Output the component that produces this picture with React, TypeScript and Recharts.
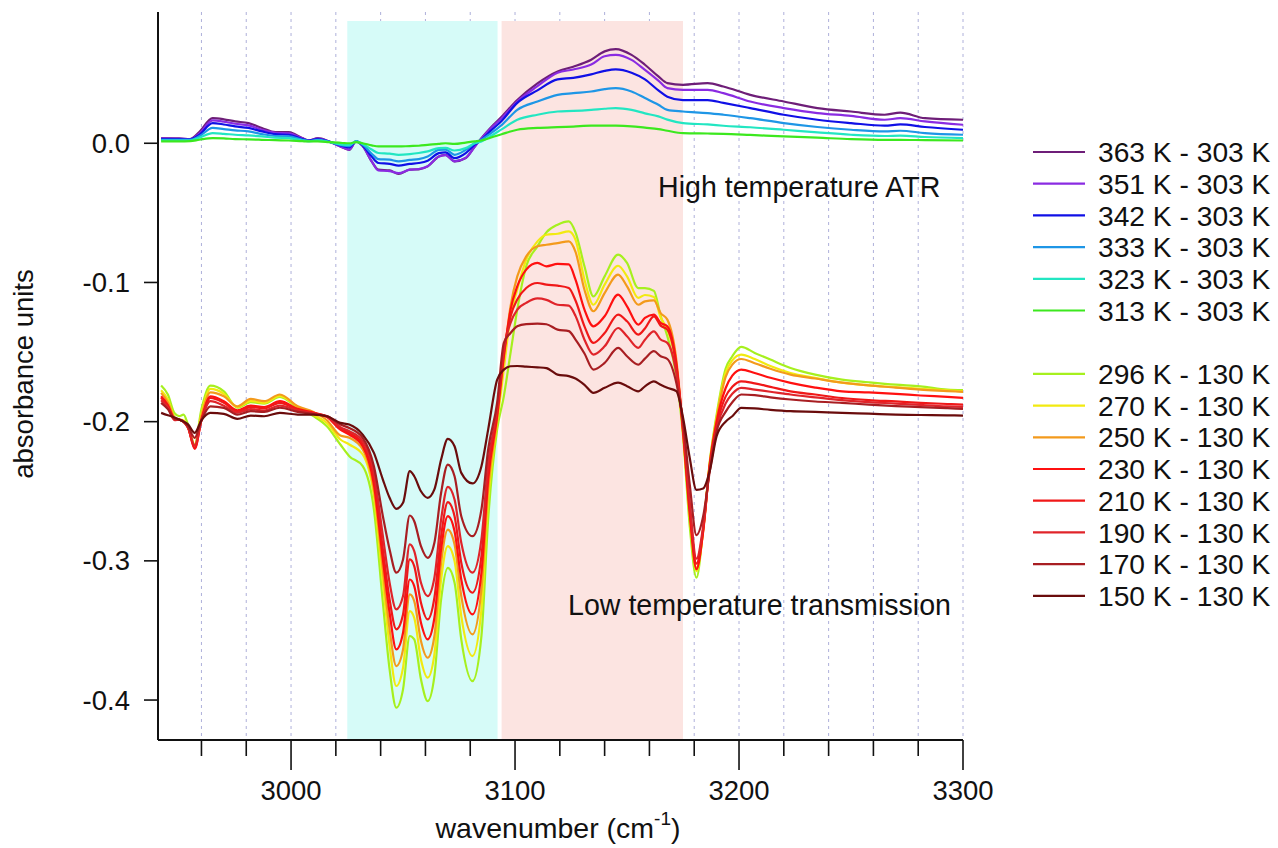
// Temperature difference IR spectra - high temperature ATR vs low temperature transmission
import React from 'react';
import { LineChart, Line, XAxis, YAxis, CartesianGrid, ReferenceArea, Legend } from 'recharts';

const FONT = '"Liberation Sans", Arial, Helvetica, sans-serif';

// high temperature ATR, wavenumbers (cm-1)
const highX = [2942, 2950, 2955, 2959, 2965, 2970, 2975, 2981, 2987, 2993, 2999, 3005, 3008, 3012, 3017, 3023, 3026, 3029, 3032, 3036, 3039, 3044, 3048, 3053, 3057, 3061, 3066, 3069, 3073, 3078, 3082, 3085, 3089, 3094, 3101, 3110, 3119, 3126, 3134, 3140, 3145, 3152, 3158, 3164, 3168, 3175, 3186, 3193, 3205, 3220, 3235, 3250, 3265, 3272, 3283, 3300];

const high363 = [0.0037, 0.0035, 0.003, 0.008, 0.018, 0.0172, 0.0157, 0.0145, 0.011, 0.008, 0.008, 0.0037, 0.002, 0.0037, 0.0013, -0.003, -0.0047, 0.0013, -0.002, -0.013, -0.019, -0.0195, -0.022, -0.019, -0.0187, -0.0166, -0.0095, -0.0083, -0.013, -0.0106, -0.0023, 0.0037, 0.011, 0.019, 0.031, 0.043, 0.0516, 0.055, 0.06, 0.066, 0.0676, 0.0635, 0.0564, 0.048, 0.0432, 0.042, 0.0432, 0.0408, 0.0348, 0.03, 0.0253, 0.0228, 0.0205, 0.022, 0.018, 0.0169];
const high351 = [0.0035, 0.0033, 0.003, 0.007, 0.0164, 0.0155, 0.014, 0.0128, 0.0097, 0.0075, 0.0071, 0.0035, 0.002, 0.0033, 0.0012, -0.003, -0.0045, 0.0013, -0.002, -0.013, -0.0195, -0.02, -0.0215, -0.019, -0.0185, -0.0165, -0.0095, -0.0085, -0.013, -0.0105, -0.0025, 0.0035, 0.0105, 0.018, 0.03, 0.041, 0.0507, 0.053, 0.0565, 0.0625, 0.0635, 0.0599, 0.0527, 0.045, 0.0396, 0.0384, 0.0384, 0.036, 0.03, 0.0253, 0.0217, 0.0197, 0.0169, 0.018, 0.0157, 0.0133];
const high342 = [0.003, 0.003, 0.0028, 0.006, 0.0145, 0.0135, 0.0121, 0.011, 0.0085, 0.0065, 0.0061, 0.003, 0.002, 0.003, 0.0012, -0.002, -0.003, 0.0013, -0.0015, -0.0095, -0.0142, -0.0148, -0.016, -0.0148, -0.0142, -0.0125, -0.0071, -0.0065, -0.0107, -0.0071, -0.001, 0.0025, 0.0087, 0.016, 0.029, 0.038, 0.0459, 0.047, 0.0495, 0.052, 0.0531, 0.0507, 0.0459, 0.038, 0.0335, 0.031, 0.031, 0.029, 0.0253, 0.0205, 0.0169, 0.0145, 0.0126, 0.0135, 0.0117, 0.0097];
const high333 = [0.0025, 0.0025, 0.0025, 0.005, 0.011, 0.0102, 0.0093, 0.0085, 0.0066, 0.0052, 0.0049, 0.0025, 0.0015, 0.0025, 0.001, -0.0015, -0.002, 0.0013, -0.001, -0.0075, -0.0114, -0.0118, -0.013, -0.012, -0.0114, -0.0095, -0.0047, -0.0045, -0.0083, -0.0047, 0, 0.0025, 0.007, 0.013, 0.024, 0.03, 0.0348, 0.036, 0.0372, 0.0389, 0.0396, 0.0372, 0.0325, 0.0277, 0.024, 0.0228, 0.0217, 0.0205, 0.018, 0.0145, 0.0117, 0.0097, 0.0085, 0.009, 0.0073, 0.0061];
const high323 = [0.002, 0.002, 0.002, 0.004, 0.0073, 0.0068, 0.0061, 0.0056, 0.0049, 0.004, 0.0037, 0.002, 0.0015, 0.002, 0.001, -0.001, -0.0012, 0.0013, -0.0005, -0.0045, -0.007, -0.0075, -0.0083, -0.0078, -0.007, -0.0058, -0.0035, -0.0033, -0.0052, -0.0035, 0, 0.0013, 0.005, 0.01, 0.0169, 0.0205, 0.0228, 0.0232, 0.024, 0.0248, 0.0253, 0.024, 0.0215, 0.0193, 0.017, 0.0145, 0.0135, 0.0126, 0.0115, 0.0097, 0.0078, 0.0061, 0.0052, 0.0055, 0.0045, 0.0037];
const high313 = [0.0013, 0.0013, 0.0015, 0.0025, 0.0037, 0.0035, 0.003, 0.0028, 0.0025, 0.0022, 0.002, 0.0015, 0.0013, 0.0013, 0.0008, 0.0002, 0, 0.0008, 0, -0.0015, -0.0023, -0.0023, -0.0023, -0.002, -0.0018, -0.0012, -0.0004, 0, -0.0005, 0.0005, 0.0013, 0.002, 0.004, 0.0065, 0.0097, 0.011, 0.0116, 0.012, 0.0126, 0.0126, 0.0126, 0.0122, 0.0112, 0.0102, 0.009, 0.0073, 0.007, 0.0068, 0.006, 0.0049, 0.004, 0.003, 0.0025, 0.0025, 0.0022, 0.002];

// low temperature transmission, wavenumbers (cm-1)
const lowX = [2942, 2945, 2948, 2950, 2952, 2954, 2957, 2960, 2964, 2970, 2976, 2982, 2988, 2995, 3003, 3010, 3016, 3022, 3026, 3032, 3037, 3041, 3044, 3047, 3050, 3053, 3055, 3058, 3061, 3064, 3067, 3070, 3073, 3076, 3081, 3085, 3088, 3092, 3095, 3098, 3101, 3105, 3110, 3114, 3119, 3124, 3127, 3131, 3135, 3140, 3146, 3150, 3155, 3158, 3162, 3165, 3168, 3172, 3175, 3178, 3181, 3184, 3187, 3190, 3194, 3197, 3201, 3207, 3214, 3223, 3234, 3246, 3258, 3270, 3281, 3293, 3300];

const low296 = [-0.174, -0.1805, -0.194, -0.196, -0.195, -0.202, -0.2164, -0.191, -0.1741, -0.1782,
  -0.19, -0.186, -0.187, -0.1822, -0.19, -0.196, -0.2033, -0.2164, -0.2248, -0.232,
  -0.2631, -0.3301, -0.378, -0.4055, -0.3923, -0.354, -0.3564, -0.3851, -0.4007, -0.3828,
  -0.3277, -0.305, -0.3157, -0.3564, -0.3864, -0.354, -0.2703, -0.2057, -0.1818, -0.1506,
  -0.1195, -0.0884, -0.0741, -0.064, -0.0585, -0.0561, -0.064, -0.0884, -0.11, -0.0956,
  -0.08, -0.086, -0.104, -0.104, -0.106, -0.124, -0.1387, -0.1674, -0.21, -0.275,
  -0.3121, -0.277, -0.228, -0.195, -0.162, -0.153, -0.1463, -0.1506, -0.1554, -0.1614,
  -0.1662, -0.1698, -0.1717, -0.1734, -0.1746, -0.177, -0.1774];
const low270 = [-0.1774, -0.184, -0.197, -0.1985, -0.199, -0.204, -0.217, -0.194, -0.1765, -0.18,
  -0.1895, -0.185, -0.1865, -0.1815, -0.1895, -0.195, -0.201, -0.2128, -0.2164, -0.2236,
  -0.2535, -0.3157, -0.3612, -0.3899, -0.3767, -0.3361, -0.3409, -0.3708, -0.3839, -0.3672,
  -0.3134, -0.2894, -0.3002, -0.3397, -0.3684, -0.3349, -0.2559, -0.2009, -0.162, -0.1243,
  -0.105, -0.0836, -0.0705, -0.0657, -0.065, -0.0633, -0.0693, -0.098, -0.116, -0.1016,
  -0.088, -0.0956, -0.1111, -0.109, -0.1104, -0.125, -0.1339, -0.16, -0.208, -0.268,
  -0.3074, -0.278, -0.229, -0.197, -0.165, -0.156, -0.1518, -0.155, -0.16, -0.165,
  -0.1685, -0.172, -0.174, -0.1752, -0.1765, -0.1775, -0.1782];
const low250 = [-0.1793, -0.186, -0.197, -0.1985, -0.2, -0.204, -0.218, -0.196, -0.1789, -0.1818,
  -0.189, -0.1837, -0.1853, -0.1805, -0.189, -0.193, -0.199, -0.21, -0.2116, -0.22,
  -0.2487, -0.3062, -0.3492, -0.3756, -0.3636, -0.3241, -0.3289, -0.3576, -0.3696, -0.354,
  -0.3014, -0.2775, -0.2882, -0.3253, -0.3528, -0.3205, -0.2487, -0.1985, -0.155, -0.117,
  -0.0956, -0.0813, -0.074, -0.0729, -0.0717, -0.0705, -0.078, -0.1052, -0.1207, -0.1076,
  -0.0944, -0.1028, -0.116, -0.1136, -0.1129, -0.122, -0.1267, -0.1554, -0.207, -0.266,
  -0.305, -0.278, -0.229, -0.198, -0.168, -0.159, -0.155, -0.158, -0.162, -0.1662,
  -0.169, -0.172, -0.174, -0.1755, -0.177, -0.178, -0.1786];
const low230 = [-0.1817, -0.188, -0.198, -0.1985, -0.2, -0.204, -0.2195, -0.1985, -0.1818, -0.1853,
  -0.1918, -0.1885, -0.1895, -0.1853, -0.1908, -0.1935, -0.1965, -0.2057, -0.2093, -0.2177,
  -0.2452, -0.299, -0.3373, -0.3636, -0.3516, -0.3134, -0.3182, -0.3444, -0.3564, -0.3409,
  -0.2918, -0.2679, -0.2787, -0.3134, -0.3385, -0.3085, -0.2416, -0.1961, -0.153, -0.1195,
  -0.1028, -0.0908, -0.086, -0.0884, -0.0867, -0.087, -0.098, -0.1195, -0.1315, -0.1243,
  -0.1088, -0.1171, -0.1303, -0.1255, -0.1231, -0.129, -0.1315, -0.1578, -0.207, -0.266,
  -0.306, -0.279, -0.23, -0.2, -0.176, -0.167, -0.1626, -0.165, -0.1685, -0.1721,
  -0.1755, -0.1782, -0.179, -0.18, -0.1812, -0.1822, -0.1829];
const low210 = [-0.1829, -0.189, -0.198, -0.1985, -0.2, -0.204, -0.219, -0.199, -0.183, -0.1865,
  -0.1925, -0.1895, -0.1905, -0.1865, -0.1915, -0.194, -0.1965, -0.205, -0.2081, -0.2164,
  -0.2416, -0.2918, -0.3277, -0.3492, -0.3385, -0.299, -0.3038, -0.3301, -0.3421, -0.3265,
  -0.2823, -0.2578, -0.2679, -0.3014, -0.3229, -0.2966, -0.2368, -0.1937, -0.1505, -0.1243,
  -0.1123, -0.104, -0.1004, -0.1015, -0.1023, -0.104, -0.113, -0.1315, -0.1434, -0.1363,
  -0.1231, -0.1279, -0.1375, -0.133, -0.1243, -0.131, -0.1339, -0.1602, -0.205, -0.262,
  -0.302, -0.277, -0.231, -0.203, -0.182, -0.175, -0.171, -0.1725, -0.175, -0.1782,
  -0.1805, -0.183, -0.1845, -0.1855, -0.1865, -0.1873, -0.1877];
const low190 = [-0.1846, -0.19, -0.199, -0.1985, -0.2, -0.2045, -0.217, -0.199, -0.1853, -0.1885,
  -0.1935, -0.191, -0.192, -0.1885, -0.192, -0.194, -0.1962, -0.204, -0.2069, -0.2141,
  -0.2368, -0.2823, -0.3157, -0.3349, -0.3253, -0.2882, -0.293, -0.3157, -0.3253, -0.3121,
  -0.2703, -0.2468, -0.2559, -0.287, -0.3085, -0.2846, -0.2296, -0.1913, -0.148, -0.129,
  -0.1195, -0.1147, -0.1115, -0.1125, -0.116, -0.1167, -0.124, -0.1411, -0.1518, -0.1459,
  -0.1327, -0.1387, -0.147, -0.1411, -0.1351, -0.141, -0.1434, -0.165, -0.203, -0.258,
  -0.2985, -0.275, -0.232, -0.205, -0.187, -0.18, -0.1757, -0.177, -0.1785, -0.1805,
  -0.1825, -0.1846, -0.186, -0.187, -0.188, -0.189, -0.1894];
const low170 = [-0.1865, -0.191, -0.198, -0.1985, -0.2, -0.2035, -0.2116, -0.199, -0.189, -0.1901,
  -0.195, -0.1925, -0.193, -0.19, -0.193, -0.1945, -0.196, -0.2021, -0.2045, -0.2116,
  -0.232, -0.2679, -0.2918, -0.3085, -0.299, -0.2674, -0.2715, -0.2894, -0.2978, -0.287,
  -0.2511, -0.2308, -0.2392, -0.2679, -0.2823, -0.2631, -0.22, -0.1865, -0.1434, -0.1363,
  -0.1315, -0.13, -0.1296, -0.13, -0.1339, -0.135, -0.141, -0.151, -0.1626, -0.1578,
  -0.147, -0.153, -0.159, -0.1547, -0.1494, -0.153, -0.155, -0.1721, -0.2, -0.245,
  -0.2815, -0.268, -0.235, -0.207, -0.193, -0.186, -0.1805, -0.181, -0.1825, -0.1841,
  -0.1855, -0.1865, -0.1878, -0.1888, -0.1895, -0.1903, -0.1908];
const low150 = [-0.1937, -0.1954, -0.197, -0.1985, -0.2, -0.202, -0.208, -0.199, -0.1937, -0.1944,
  -0.198, -0.1956, -0.1961, -0.1937, -0.1949, -0.195, -0.1961, -0.2009, -0.2021, -0.2093,
  -0.2224, -0.2416, -0.2547, -0.2626, -0.2583, -0.2356, -0.2392, -0.25, -0.2547, -0.2487,
  -0.2272, -0.2124, -0.2177, -0.2368, -0.2444, -0.232, -0.2057, -0.17, -0.1626, -0.1602,
  -0.16, -0.1605, -0.161, -0.1615, -0.1662, -0.1673, -0.169, -0.1735, -0.1793, -0.1757,
  -0.172, -0.1745, -0.1782, -0.1746, -0.171, -0.1735, -0.1757, -0.178, -0.197, -0.226,
  -0.249, -0.248, -0.235, -0.2105, -0.2, -0.1961, -0.1901, -0.1905, -0.1915, -0.1925,
  -0.193, -0.1937, -0.1943, -0.1949, -0.1952, -0.1955, -0.1956];

// axis ticks and shaded bands
const xTicks = [2960, 2980, 3000, 3020, 3040, 3060, 3080, 3100, 3120, 3140, 3160, 3180, 3200, 3220, 3240, 3260, 3280, 3300];
const yTicks = [0, -0.1, -0.2, -0.3, -0.4];
const cyanBand = [3025.1, 3092.2];
const pinkBand = [3094.0, 3175.0];

const highSeries = [
  { name: '363 K - 303 K', color: '#6e1e78', values: high363 },
  { name: '351 K - 303 K', color: '#8a2be2', values: high351 },
  { name: '342 K - 303 K', color: '#1010e6', values: high342 },
  { name: '333 K - 303 K', color: '#1e96e6', values: high333 },
  { name: '323 K - 303 K', color: '#22e6c2', values: high323 },
  { name: '313 K - 303 K', color: '#3ce81e', values: high313 },
];

const lowSeries = [
  { name: '296 K - 130 K', color: '#a6f01e', values: low296 },
  { name: '270 K - 130 K', color: '#f2ea10', values: low270 },
  { name: '250 K - 130 K', color: '#f39a1c', values: low250 },
  { name: '230 K - 130 K', color: '#ff1010', values: low230 },
  { name: '210 K - 130 K', color: '#f01818', values: low210 },
  { name: '190 K - 130 K', color: '#e0242a', values: low190 },
  { name: '170 K - 130 K', color: '#a81e22', values: low170 },
  { name: '150 K - 130 K', color: '#6a0c0c', values: low150 },
];

const XTick = (props: any) => {
  const { x, y, payload } = props;
  const major = payload.value % 100 === 0;
  return (
    <g>
      <line x1={x} x2={x} y1={y} y2={y + (major ? 30 : 16)} stroke="#111" strokeWidth={1.6} />
      {major && (
        <text x={x} y={y + 60} textAnchor="middle" fontSize={27.5} fontFamily={FONT} fill="#111">
          {payload.value}
        </text>
      )}
    </g>
  );
};

const YTick = (props: any) => {
  const { x, y, payload } = props;
  return (
    <g>
      <line x1={x - 14} x2={x} y1={y} y2={y} stroke="#111" strokeWidth={1.6} />
      <text x={x - 28} y={y} dy="0.35em" textAnchor="end" fontSize={27.5} fontFamily={FONT} fill="#111">
        {payload.value.toFixed(1)}
      </text>
    </g>
  );
};

const SpectraLegend = () => {
  const rows = [...highSeries, null, ...lowSeries];
  return (
    <svg width={250} height={490}>
      {rows.map((s, i) =>
        s ? (
          <g key={s.name}>
            <line x1={5} x2={57} y1={22 + i * 31.7} y2={22 + i * 31.7} stroke={s.color} strokeWidth={2.2} />
            <text x={70} y={22 + i * 31.7} dy="0.36em" fontSize={28.2} fontFamily={FONT} fill="#111">
              {s.name}
            </text>
          </g>
        ) : null
      )}
    </svg>
  );
};

export default function App() {
  return (
    <div style={{ position: 'absolute', left: 0, top: 0, width: 1278, height: 848, background: '#fff' }}>
      <LineChart width={1278} height={848} margin={{ top: 12, right: 315, bottom: 8, left: 98 }}>
        <ReferenceArea x1={cyanBand[0]} x2={cyanBand[1]} y1={-0.4287} y2={0.0878} fill="#d6fbf8" fillOpacity={1} stroke="none" />
        <ReferenceArea x1={pinkBand[0]} x2={pinkBand[1]} y1={-0.4287} y2={0.0878} fill="#fce4e1" fillOpacity={1} stroke="none" />
        <CartesianGrid horizontal={false} stroke="#aeb0da" strokeDasharray="3 4" />
        <XAxis
          type="number"
          dataKey="x"
          domain={[2940.6, 3300]}
          allowDataOverflow
          ticks={xTicks}
          interval={0}
          height={100}
          tickSize={0}
          tickMargin={0}
          tick={<XTick />}
          axisLine={{ stroke: '#111', strokeWidth: 2 }}
        />
        <YAxis
          type="number"
          domain={[-0.4287, 0.0943]}
          allowDataOverflow
          ticks={yTicks}
          interval={0}
          width={60}
          tickSize={0}
          tickMargin={0}
          tick={<YTick />}
          axisLine={{ stroke: '#111', strokeWidth: 2 }}
        />
        {highSeries.map((s) => (
          <Line
            key={s.name}
            name={s.name}
            data={highX.map((x, i) => ({ x, y: s.values[i] }))}
            dataKey="y"
            type="monotone"
            stroke={s.color}
            strokeWidth={2.2}
            dot={false}
            isAnimationActive={false}
          />
        ))}
        {lowSeries.map((s) => (
          <Line
            key={s.name}
            name={s.name}
            data={lowX.map((x, i) => ({ x, y: s.values[i] }))}
            dataKey="y"
            type="monotone"
            stroke={s.color}
            strokeWidth={2.2}
            dot={false}
            isAnimationActive={false}
          />
        ))}
        <Legend
          layout="vertical"
          align="center"
          verticalAlign="middle"
          content={() => <SpectraLegend />}
          wrapperStyle={{ left: 1028, top: 130, width: 250, height: 490 }}
        />
        <text x={33} y={374} transform="rotate(-90, 33, 374)" textAnchor="middle" fontSize={27.5} fontFamily={FONT} fill="#111">
          absorbance units
        </text>
        <text x={558} y={838} textAnchor="middle" fontSize={28.5} fontFamily={FONT} fill="#111">
          wavenumber (cm<tspan dy={-13} fontSize={19}>-1</tspan><tspan dy={13}>)</tspan>
        </text>
      </LineChart>
      {/* annotations drawn above the shaded bands */}
      <svg width={1278} height={848} style={{ position: 'absolute', left: 0, top: 0, pointerEvents: 'none' }}>
        <text x={658} y={197} fontSize={28.6} fontFamily={FONT} fill="#111">High temperature ATR</text>
        <text x={568} y={615} fontSize={28.6} fontFamily={FONT} fill="#111">Low temperature transmission</text>
      </svg>
    </div>
  );
}
